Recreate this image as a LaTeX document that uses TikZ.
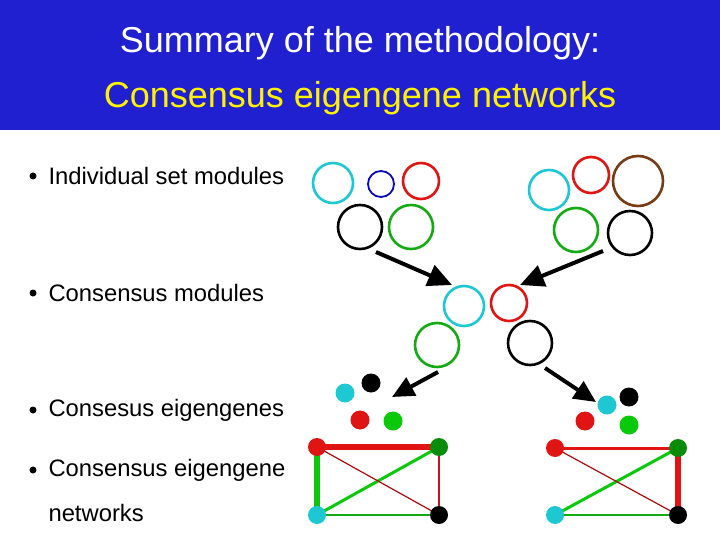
\documentclass[tikz,border=0pt]{standalone}
\usepackage{fontspec}
\setmainfont{Liberation Sans}
\usetikzlibrary{arrows.meta}
\begin{document}
\begin{tikzpicture}[x=1pt,y=-1pt,
  ring/.style={draw,line width=2.6pt,circle,inner sep=0pt},
  dot/.style={circle,inner sep=0pt,minimum size=19pt},
  big/.style={-{Triangle[length=24pt,width=22pt]},line width=4pt},
  bul/.style={anchor=west,font=\fontsize{23.8}{28}\selectfont}]
\useasboundingbox (0,0) rectangle (720,540);
\fill[fill={rgb,255:red,32;green,32;blue,208}] (0,0) rectangle (720,130);
\node[white,font=\fontsize{36}{42}\selectfont] (t1) at (360,43) {Summary of the methodology:};
\node[yellow,font=\fontsize{36}{42}\selectfont] (t2) at (360,98) {Consensus eigengene networks};
\foreach \y in {176,293,410,470}{\fill (33,\y) circle (3.5pt);}
\node[bul] (l1) at (45,176) {Individual set modules};
\node[bul] (l2) at (45,293) {Consensus modules};
\node[bul] (l3) at (45,410) {Consesus eigengenes};
\node[bul] (l4) at (45,470) {Consensus eigengene};
\node[bul] (l5) at (45,513) {networks};
\definecolor{cy}{RGB}{30,200,210}\definecolor{rd}{RGB}{225,20,20}
\definecolor{gr}{RGB}{20,170,20}\definecolor{bl}{RGB}{10,10,180}
\definecolor{br}{RGB}{120,60,20}\definecolor{dg}{RGB}{10,140,10}
\definecolor{lg}{RGB}{10,200,10}\definecolor{dr}{RGB}{170,10,10}
% left group
\node[ring,cy,minimum size=40pt] (a1) at (333,183) {};
\node[ring,bl,minimum size=26pt,line width=1.8pt] (a2) at (381,184) {};
\node[ring,rd,minimum size=36pt] (a3) at (421,181) {};
\node[ring,black,minimum size=44pt] (a4) at (360,227) {};
\node[ring,gr,minimum size=44pt] (a5) at (411,227) {};
% right group
\node[ring,cy,minimum size=40pt] (b1) at (549,190) {};
\node[ring,rd,minimum size=36pt] (b2) at (591,175) {};
\node[ring,br,minimum size=50pt] (b3) at (638,181) {};
\node[ring,gr,minimum size=44pt] (b4) at (576,230) {};
\node[ring,black,minimum size=44pt] (b5) at (630,233) {};
% middle
\node[ring,cy,minimum size=40pt] (c1) at (464,306) {};
\node[ring,rd,minimum size=36pt] (c2) at (509,303) {};
\node[ring,gr,minimum size=44pt] (c3) at (437,345) {};
\node[ring,black,minimum size=44pt] (c4) at (530,343) {};
\coordinate (p1) at (376,252); \coordinate (p2) at (603,251);
\coordinate (p3) at (438,372); \coordinate (p4) at (545,368);
\coordinate (q1) at (452,285); \coordinate (q2) at (520,285);
\draw[big] (p1) -- (q1);
\draw[big] (p2) -- (q2);
% dots
\node[dot,fill=cy] (d1) at (345,393) {};
\node[dot,fill=black] (d2) at (371,383) {};
\node[dot,fill=rd] (d3) at (360,420) {};
\node[dot,fill=lg] (d4) at (393,421) {};
\node[dot,fill=cy] (e1) at (607,405) {};
\node[dot,fill=black] (e2) at (629,397) {};
\node[dot,fill=rd] (e3) at (585,421) {};
\node[dot,fill=lg] (e4) at (629,425) {};
\coordinate (q3) at (392,397); \coordinate (q4) at (596,402);
\draw[big,-{Triangle[length=22pt,width=20pt]}] (p3) -- (q3);
\draw[big,-{Triangle[length=22pt,width=20pt]}] (p4) -- (q4);
% networks
\coordinate (n1) at (317,447); \coordinate (n2) at (439,447);
\coordinate (n3) at (317,515); \coordinate (n4) at (439,515);
\coordinate (m1) at (555,448); \coordinate (m2) at (678,448);
\coordinate (m3) at (555,515); \coordinate (m4) at (678,515);
\draw[rd,line width=6pt] (n1) -- (n2);
\draw[lg,line width=6pt] (n1) -- (n3);
\draw[lg,line width=3pt] (n2) -- (n3);
\draw[dr,line width=1.2pt] (n1) -- (n4);
\draw[rd!90!black,line width=2.5pt] (n2) -- (n4);
\draw[gr,line width=1.5pt] (n3) -- (n4);
\draw[rd,line width=3pt] (m1) -- (m2);
\draw[rd,line width=6pt] (m2) -- (m4);
\draw[lg,line width=3pt] (m2) -- (m3);
\draw[dr,line width=1.2pt] (m1) -- (m4);
\draw[gr,line width=1.5pt] (m3) -- (m4);
\foreach \n/\c in {n1/rd,n2/dg,n3/cy,n4/black,m1/rd,m2/dg,m3/cy,m4/black}{\fill[\c] (\n) circle (9pt);}
\end{tikzpicture}
\end{document}
